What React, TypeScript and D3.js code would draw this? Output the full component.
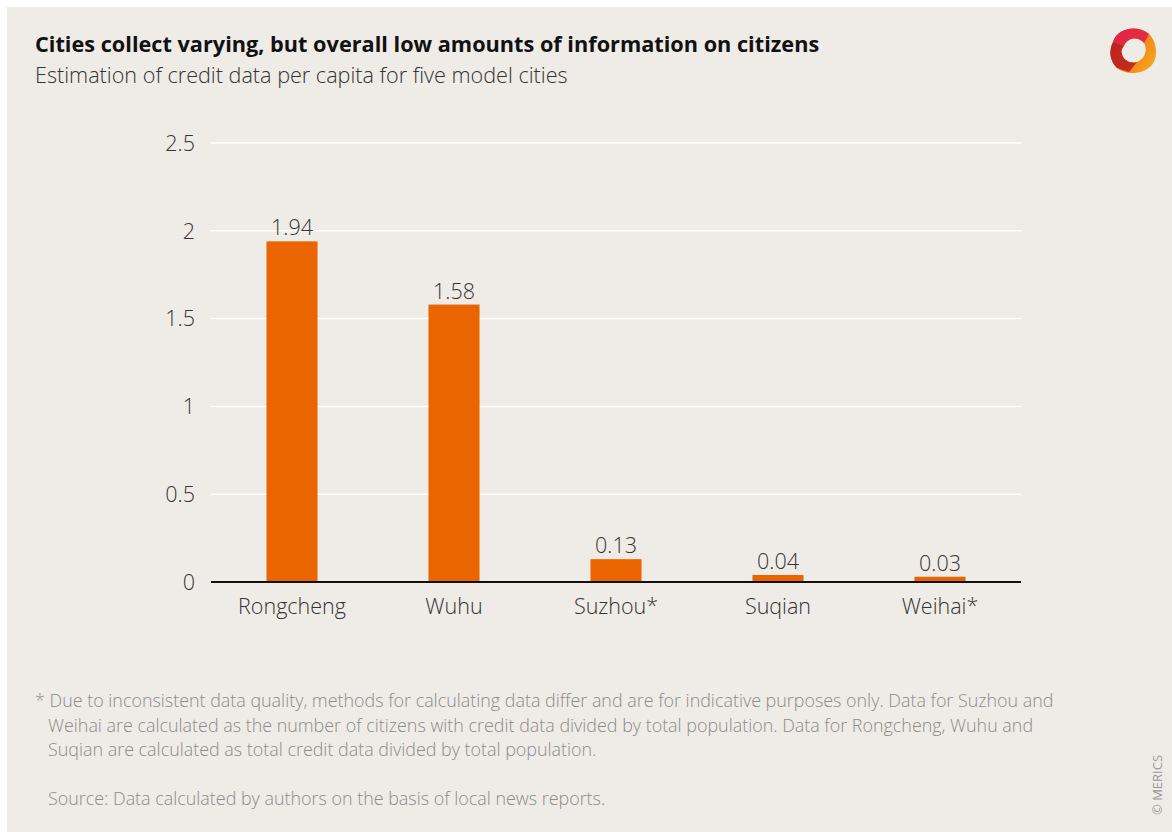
import React from "react";
import * as d3 from "d3";

const cities = ["Rongcheng", "Wuhu", "Suzhou*", "Suqian", "Weihai*"];
const values = [1.94, 1.58, 0.13, 0.04, 0.03];
const yTicks = [0, 0.5, 1, 1.5, 2, 2.5];
const footnote = [
  "* Due to inconsistent data quality, methods for calculating data differ and are for indicative purposes only. Data for Suzhou and",
  "Weihai are calculated as the number of citizens with credit data divided by total population. Data for Rongcheng, Wuhu and",
  "Suqian are calculated as total credit data divided by total population.",
];
const source = "Source: Data calculated by authors on the basis of local news reports.";

const W = 1172;
const H = 832;
const FONT = "'Open Sans', Lato, sans-serif";

const Logo = () => (
  <g transform="translate(1133,50)">
    <defs>
      <linearGradient id="lg1" x1="0" y1="0" x2="1" y2="0.6">
        <stop offset="0" stopColor="#e8323c" />
        <stop offset="0.55" stopColor="#f07a1a" />
        <stop offset="1" stopColor="#f5a21c" />
      </linearGradient>
    </defs>
    <path
      d="M-20,-8 C-16,-22 4,-26 16,-16 C24,-8 26,8 18,16 C10,24 -6,26 -16,18 C-24,10 -24,0 -20,-8 Z M-9,-4 C-6,-13 6,-14 11,-7 C15,0 12,9 4,12 C-3,14 -10,10 -11,4 C-12,1 -11,-2 -9,-4 Z"
      fill="url(#lg1)"
      fillRule="evenodd"
    />
    <path d="M-20,-8 C-16,-22 4,-26 16,-16 L11,-7 C6,-14 -6,-13 -9,-4 Z" fill="#e01f4b" opacity={0.85} />
    <path d="M-16,18 C-24,10 -24,0 -20,-8 L-9,-4 C-12,-1 -12,2 -11,4 C-10,10 -3,14 4,12 L-4,22 Z" fill="#b3181f" opacity={0.8} />
  </g>
);

export default function App() {
  const x = d3
    .scaleBand<string>()
    .domain(cities)
    .range([211, 1021])
    .paddingInner(0.685)
    .paddingOuter(0.3425);
  const y = d3.scaleLinear().domain([0, 2.5]).range([582, 143]);
  const fmt = d3.format(".2f");
  const LBL = 21.5;

  return (
    <svg width={W} height={H} style={{ position: "absolute", left: 0, top: 0 }} fontFamily={FONT}>
      <rect x={0} y={0} width={W} height={H} fill="#ffffff" />
      <rect x={7} y={7} width={W - 7} height={H - 7} fill="#efebe6" />

      <text x={35} y={52} fontSize={21.7} fontWeight={700} fill="#111">
        Cities collect varying, but overall low amounts of information on citizens
      </text>
      <text x={35} y={83} fontSize={21.6} fontWeight={300} fill="#333">
        Estimation of credit data per capita for five model cities
      </text>

      <Logo />

      {yTicks.map((t) => (
        <g key={t}>
          {t > 0 && <line x1={211} x2={1021} y1={y(t)} y2={y(t)} stroke="#ffffff" strokeWidth={1.5} />}
          <text x={195} y={y(t)} dy="0.36em" textAnchor="end" fontSize={LBL} fontWeight={300} fill="#333">
            {String(t)}
          </text>
        </g>
      ))}

      {cities.map((c, i) => (
        <g key={c}>
          <rect x={x(c)} y={y(values[i])} width={x.bandwidth()} height={y(0) - y(values[i])} fill="#ea6400" />
          <text
            x={(x(c) as number) + x.bandwidth() / 2}
            y={y(values[i]) - 6}
            textAnchor="middle"
            fontSize={LBL}
            fontWeight={300}
            fill="#333"
          >
            {fmt(values[i])}
          </text>
          <text
            x={(x(c) as number) + x.bandwidth() / 2}
            y={614}
            textAnchor="middle"
            fontSize={LBL}
            fontWeight={300}
            fill="#333"
          >
            {c}
          </text>
        </g>
      ))}
      <line x1={211} x2={1021} y1={y(0)} y2={y(0)} stroke="#111" strokeWidth={2} />

      {footnote.map((l, i) => (
        <text key={i} x={i === 0 ? 35 : 48} y={707 + i * 24.5} fontSize={17.9} fontWeight={300} fill="#8c8c8c">
          {l}
        </text>
      ))}
      <text x={48} y={805} fontSize={17.9} fontWeight={300} fill="#8c8c8c">
        {source}
      </text>
      <text transform="translate(1162,785) rotate(-90)" textAnchor="middle" fontSize={13} fill="#999">
        © MERICS
      </text>
    </svg>
  );
}
